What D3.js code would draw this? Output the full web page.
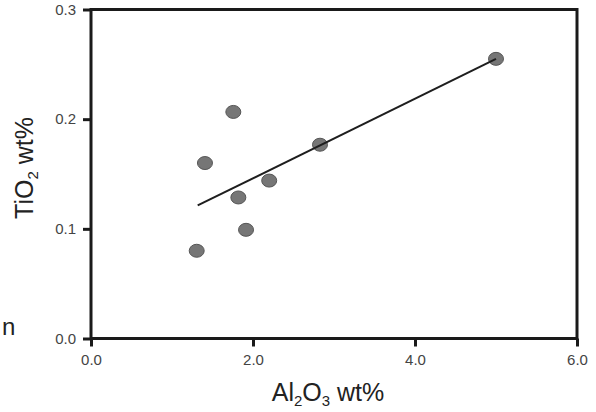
<!DOCTYPE html>
<html>
<head>
<meta charset="utf-8">
<script src="https://cdn.jsdelivr.net/npm/d3@7"></script>
<style>
  html, body { margin: 0; padding: 0; background: #fff; }
  svg { display: block; font-family: "Liberation Sans", Arial, sans-serif; }
</style>
</head>
<body>
<svg id="chart" width="596" height="412"></svg>
<script>
// ---- data ----
const al2o3 = [1.305, 1.407, 1.757, 1.819, 1.914, 2.20, 2.827, 5.0];
const tio2  = [0.080, 0.160, 0.2066, 0.1286, 0.0991, 0.144, 0.1767, 0.255];
const fitX  = [1.317, 5.0];
const fitY  = [0.1213, 0.255];
const xTicks = [0, 2, 4, 6];
const yTicks = [0, 0.1, 0.2, 0.3];

const svg = d3.select("#chart");
const mLeft = 91, mRight = 577, mTop = 9.5, mBottom = 338.5;

const x = d3.scaleLinear().domain([0, 6]).range([mLeft, mRight]);
const y = d3.scaleLinear().domain([0, 0.3]).range([mBottom, mTop]);

// points first (under the frame)
const pts = al2o3.map((v, i) => ({x: v, y: tio2[i]}));
svg.append("g").selectAll("ellipse").data(pts).enter().append("ellipse")
  .attr("cx", d => x(d.x)).attr("cy", d => y(d.y))
  .attr("rx", 7.5).attr("ry", 6.5)
  .attr("fill", "#767676").attr("stroke", "#555").attr("stroke-width", 1);

// fit line
svg.append("line")
  .attr("x1", x(fitX[0])).attr("y1", y(fitY[0]))
  .attr("x2", x(fitX[1])).attr("y2", y(fitY[1]))
  .attr("stroke", "#1e1e1e").attr("stroke-width", 2);

// frame
svg.append("rect")
  .attr("x", mLeft).attr("y", mTop)
  .attr("width", mRight - mLeft).attr("height", mBottom - mTop)
  .attr("fill", "none").attr("stroke", "#1a1a1a").attr("stroke-width", 3);

// axes
const yAxis = d3.axisLeft(y).tickValues(yTicks).tickFormat(d3.format(".1f"))
  .tickSize(8).tickSizeOuter(0).tickPadding(7);
const gy = svg.append("g").attr("transform", `translate(${mLeft},0)`).call(yAxis);
gy.select(".domain").remove();
gy.selectAll(".tick line").attr("stroke", "#1a1a1a").attr("stroke-width", 3);
gy.selectAll(".tick text").attr("fill", "#444").style("font-size", "15px")
  .style("font-family", "Liberation Sans, Arial, sans-serif");

const xAxis = d3.axisBottom(x).tickValues(xTicks).tickFormat(d3.format(".1f"))
  .tickSize(8).tickSizeOuter(0).tickPadding(8);
const gx = svg.append("g").attr("transform", `translate(0,${mBottom})`).call(xAxis);
gx.select(".domain").remove();
gx.selectAll(".tick line").attr("stroke", "#1a1a1a").attr("stroke-width", 3);
gx.selectAll(".tick text").attr("fill", "#444").style("font-size", "15px")
  .style("font-family", "Liberation Sans, Arial, sans-serif");

// axis titles
const xt = svg.append("text").attr("x", 328).attr("y", 401)
  .attr("text-anchor", "middle").attr("fill", "#222").style("font-size", "25px");
xt.append("tspan").text("Al");
xt.append("tspan").attr("dy", 5).style("font-size", "15px").text("2");
xt.append("tspan").attr("dy", -5).text("O");
xt.append("tspan").attr("dy", 5).style("font-size", "15px").text("3");
xt.append("tspan").attr("dy", -5).text(" wt%");

const yt = svg.append("text").attr("transform", "translate(33,168) rotate(-90)")
  .attr("text-anchor", "middle").attr("fill", "#222").style("font-size", "25px");
yt.append("tspan").text("TiO");
yt.append("tspan").attr("dy", 5).style("font-size", "15px").text("2");
yt.append("tspan").attr("dy", -5).text(" wt%");

// fragment at left edge
svg.append("text").attr("x", 2).attr("y", 335).attr("text-anchor", "start")
  .attr("fill", "#222").style("font-size", "24px").text("n");
</script>
</body>
</html>
